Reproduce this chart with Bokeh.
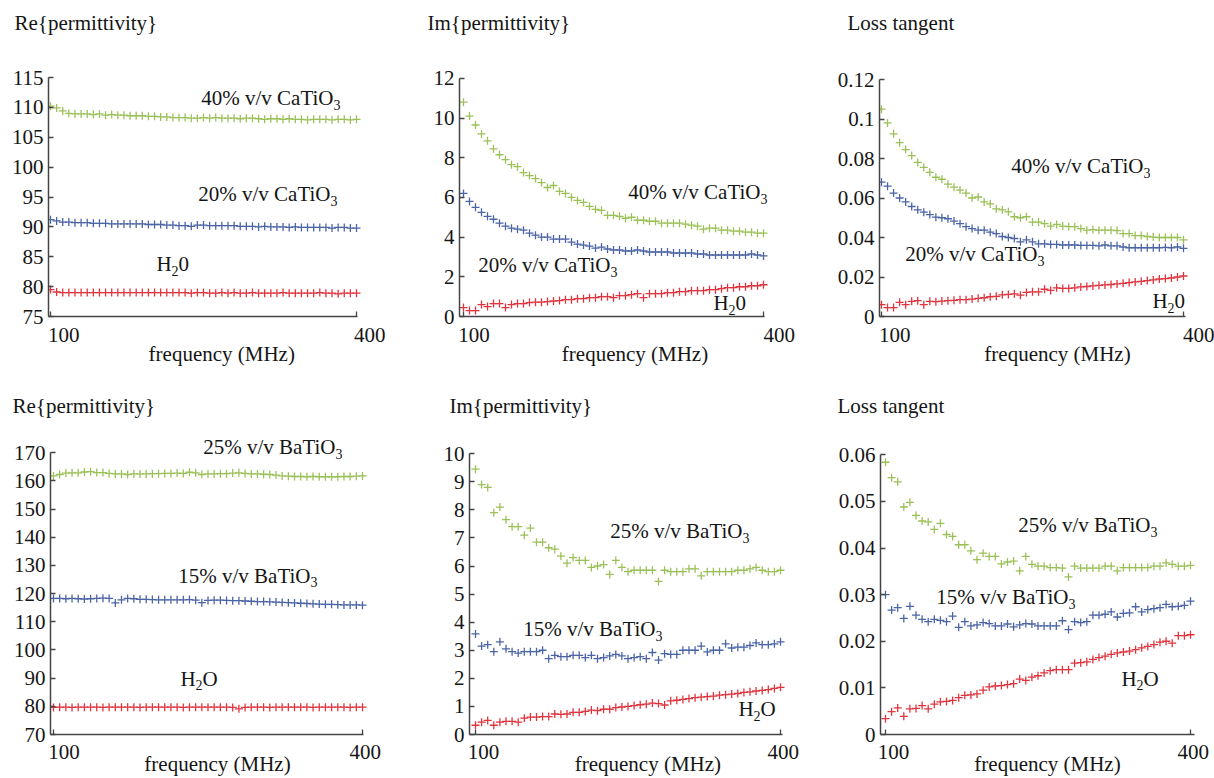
from bokeh.plotting import figure
from bokeh.models import Label, FixedTicker, Range1d, CustomJSTickFormatter
from bokeh.layouts import column, row
from bokeh.embed import file_html
from bokeh.resources import INLINE

# ---------------- data ----------------
freq = [100, 106, 112, 118, 124, 130, 136, 142, 148, 154,
        160, 166, 172, 178, 184, 190, 196, 202, 208, 214,
        220, 226, 232, 238, 244, 250, 256, 262, 268, 274,
        280, 286, 292, 298, 304, 310, 316, 322, 328, 334,
        340, 346, 352, 358, 364, 370, 376, 382, 388, 394,
        400]
x_ticks = [100, 400]

# CaTiO3 -- real part
re_ca40 = [110.2, 109.9, 109.4, 109.0, 108.9, 108.9, 108.9, 108.8, 108.9, 108.7,
           108.8, 108.7, 108.7, 108.6, 108.6, 108.6, 108.5, 108.5, 108.4, 108.4,
           108.3, 108.3, 108.3, 108.2, 108.2, 108.3, 108.2, 108.3, 108.2, 108.2,
           108.2, 108.1, 108.2, 108.2, 108.1, 108.0, 108.1, 108.1, 108.0, 108.1,
           108.0, 108.0, 107.9, 108.0, 108.0, 108.0, 107.9, 108.0, 108.0, 107.9,
           108.0]
re_ca20 = [91.2, 91.0, 90.8, 90.8, 90.7, 90.7, 90.7, 90.6, 90.6, 90.6,
           90.5, 90.5, 90.5, 90.5, 90.5, 90.5, 90.4, 90.4, 90.4, 90.3,
           90.3, 90.2, 90.2, 90.1, 90.3, 90.3, 90.2, 90.2, 90.2, 90.2,
           90.2, 90.1, 90.1, 90.1, 90.0, 90.1, 90.0, 90.0, 90.0, 89.9,
           90.0, 89.9, 89.9, 89.9, 89.9, 89.9, 89.8, 89.9, 89.9, 89.8,
           89.8]
re_ca_h2o = [79.5, 79.1, 79.0, 79.0, 79.0, 79.0, 79.0, 79.0, 79.0, 79.0,
             79.0, 79.0, 79.0, 79.0, 79.0, 79.0, 79.0, 79.0, 79.0, 79.0,
             79.0, 79.0, 79.0, 78.9, 79.0, 79.0, 78.9, 78.9, 79.0, 78.9,
             79.0, 78.9, 78.9, 79.0, 78.9, 78.9, 78.9, 78.9, 79.0, 78.9,
             78.9, 78.9, 78.9, 78.9, 79.0, 78.9, 78.9, 78.8, 78.9, 78.9,
             78.9]
# CaTiO3 -- imaginary part
im_ca40 = [10.8, 10.1, 9.65, 9.2, 8.85, 8.45, 8.15, 7.9, 7.65, 7.55,
           7.25, 7.1, 6.95, 6.75, 6.5, 6.6, 6.3, 6.2, 6.0, 5.85,
           5.75, 5.55, 5.4, 5.35, 5.1, 5.1, 5.05, 4.95, 5.0, 4.85,
           4.85, 4.8, 4.8, 4.7, 4.7, 4.7, 4.7, 4.65, 4.6, 4.55,
           4.4, 4.45, 4.45, 4.35, 4.35, 4.3, 4.3, 4.25, 4.25, 4.2,
           4.2]
im_ca20 = [6.2, 5.8, 5.5, 5.25, 5.05, 4.9, 4.7, 4.55, 4.45, 4.4,
           4.35, 4.2, 4.1, 4.0, 4.0, 3.9, 3.9, 3.9, 3.75, 3.65,
           3.6, 3.55, 3.45, 3.5, 3.4, 3.35, 3.35, 3.3, 3.3, 3.35,
           3.3, 3.25, 3.25, 3.25, 3.25, 3.2, 3.2, 3.2, 3.2, 3.15,
           3.15, 3.1, 3.1, 3.1, 3.1, 3.1, 3.1, 3.1, 3.15, 3.1,
           3.05]
im_ca_h2o = [0.45, 0.3, 0.3, 0.6, 0.5, 0.65, 0.65, 0.45, 0.6, 0.65,
             0.65, 0.7, 0.72, 0.72, 0.75, 0.78, 0.8, 0.85, 0.85, 0.9,
             0.9, 0.95, 0.95, 1.0, 1.0, 0.95, 1.05, 1.05, 1.1, 1.15,
             0.95, 1.15, 1.15, 1.15, 1.2, 1.2, 1.25, 1.25, 1.3, 1.3,
             1.3, 1.35, 1.35, 1.4, 1.45, 1.45, 1.5, 1.5, 1.55, 1.55,
             1.6]
# CaTiO3 -- loss tangent
lt_ca40 = [0.105, 0.098, 0.0925, 0.088, 0.0845, 0.0815, 0.078, 0.0755, 0.073, 0.0705,
           0.0695, 0.067, 0.0655, 0.064, 0.0625, 0.060, 0.0605, 0.058, 0.057, 0.0545,
           0.054, 0.053, 0.0505, 0.050, 0.0505, 0.0478, 0.0478, 0.047, 0.0458, 0.0466,
           0.0458, 0.0455, 0.0455, 0.0445, 0.0437, 0.044, 0.0437, 0.0437, 0.0437, 0.0435,
           0.042, 0.042, 0.041, 0.041, 0.0405, 0.0402, 0.040, 0.040, 0.040, 0.040,
           0.0388]
lt_ca20 = [0.068, 0.066, 0.0625, 0.060, 0.058, 0.0557, 0.054, 0.0528, 0.0516, 0.0503,
           0.050, 0.0495, 0.0483, 0.047, 0.0455, 0.0445, 0.0437, 0.0437, 0.0427, 0.042,
           0.0405, 0.040, 0.0395, 0.0378, 0.0388, 0.0378, 0.0368, 0.0368, 0.0365, 0.0365,
           0.0362, 0.0362, 0.0362, 0.036, 0.036, 0.036, 0.0358, 0.0362, 0.0358, 0.0358,
           0.0352, 0.0348, 0.0348, 0.0348, 0.0348, 0.0348, 0.0348, 0.035, 0.0348, 0.0352,
           0.0345]
lt_ca_h2o = [0.006, 0.0045, 0.0045, 0.0072, 0.006, 0.0077, 0.008, 0.006, 0.0077, 0.0075,
             0.0078, 0.008, 0.0082, 0.0085, 0.0085, 0.0088, 0.0092, 0.0095, 0.0100, 0.0102,
             0.0110, 0.0112, 0.0115, 0.0108, 0.0122, 0.0125, 0.0125, 0.0138, 0.0132, 0.0145,
             0.0142, 0.0142, 0.0145, 0.0150, 0.0152, 0.0155, 0.0158, 0.0160, 0.0162, 0.0165,
             0.0168, 0.0172, 0.0175, 0.0178, 0.0182, 0.0185, 0.0190, 0.0192, 0.0195, 0.0200,
             0.0205]
# BaTiO3 -- real part
re_ba25 = [161.8, 162.3, 162.8, 162.9, 162.9, 163.2, 163.3, 163.0, 163.0, 162.7,
           162.5, 162.5, 162.3, 162.5, 162.5, 162.5, 162.6, 162.6, 162.7, 162.7,
           162.8, 162.7, 163.1, 162.9, 162.3, 162.5, 162.5, 162.6, 162.6, 162.8,
           162.9, 162.7, 162.5, 162.5, 162.4, 162.3, 162.1, 161.8, 161.7, 161.6,
           161.6, 161.5, 161.6, 161.5, 161.5, 161.5, 161.5, 161.6, 161.6, 161.7,
           161.8]
re_ba15 = [118.3, 118.3, 118.2, 118.3, 118.2, 118.1, 118.2, 118.3, 118.4, 118.3,
           116.7, 117.8, 118.3, 118.2, 118.0, 118.0, 117.9, 117.8, 117.8, 117.8,
           117.8, 117.8, 117.9, 117.7, 116.8, 117.6, 117.7, 117.7, 117.6, 117.5,
           117.5, 117.4, 117.3, 117.2, 117.2, 117.1, 117.0, 116.9, 116.8, 116.7,
           116.6, 116.5, 116.4, 116.3, 116.2, 116.2, 116.1, 116.0, 116.0, 116.0,
           115.9]
re_ba_h2o = [79.6, 79.7, 79.7, 79.6, 79.7, 79.7, 79.7, 79.7, 79.6, 79.7,
             79.7, 79.7, 79.7, 79.7, 79.6, 79.7, 79.7, 79.7, 79.7, 79.7,
             79.7, 79.6, 79.7, 79.7, 79.7, 79.7, 79.7, 79.7, 79.7, 79.6,
             79.1, 79.6, 79.7, 79.7, 79.7, 79.6, 79.7, 79.7, 79.7, 79.7,
             79.7, 79.7, 79.6, 79.7, 79.7, 79.7, 79.7, 79.7, 79.6, 79.7,
             79.7]
# BaTiO3 -- imaginary part
im_ba25 = [9.45, 8.9, 8.8, 7.9, 8.1, 7.65, 7.4, 7.4, 7.1, 7.35,
           6.85, 6.85, 6.65, 6.6, 6.35, 6.1, 6.3, 6.2, 6.2, 5.95,
           6.0, 6.05, 5.7, 6.2, 5.95, 5.8, 5.85, 5.85, 5.85, 5.85,
           5.45, 5.85, 5.8, 5.8, 5.8, 5.9, 5.9, 5.65, 5.8, 5.8,
           5.8, 5.8, 5.8, 5.85, 5.85, 5.9, 5.95, 5.85, 5.8, 5.8,
           5.85]
im_ba15 = [3.58, 3.15, 3.2, 2.95, 3.3, 3.05, 2.95, 2.9, 2.95, 2.95,
           2.95, 3.0, 2.7, 2.82, 2.77, 2.77, 2.82, 2.82, 2.74, 2.82,
           2.7, 2.74, 2.8, 2.85, 2.8, 2.7, 2.74, 2.77, 2.7, 2.92,
           2.65, 2.88, 2.85, 2.85, 3.0, 3.0, 3.0, 3.15, 2.94, 3.0,
           3.0, 3.23, 3.08, 3.11, 3.11, 3.17, 3.26, 3.2, 3.2, 3.23,
           3.3]
im_ba_h2o = [0.33, 0.44, 0.5, 0.33, 0.44, 0.47, 0.47, 0.44, 0.58, 0.62,
             0.62, 0.64, 0.64, 0.73, 0.72, 0.73, 0.79, 0.79, 0.82, 0.87,
             0.85, 0.9, 0.9, 0.96, 0.98, 1.0, 1.03, 1.06, 1.08, 1.12,
             1.1, 1.05, 1.2, 1.22, 1.25, 1.28, 1.31, 1.33, 1.35, 1.37,
             1.4, 1.42, 1.44, 1.46, 1.5, 1.52, 1.55, 1.57, 1.6, 1.64,
             1.68]
# BaTiO3 -- loss tangent
lt_ba25 = [0.0584, 0.0551, 0.0542, 0.0488, 0.0498, 0.047, 0.0458, 0.0456, 0.044, 0.0453,
           0.0429, 0.0425, 0.0407, 0.0407, 0.0394, 0.0375, 0.0389, 0.0382, 0.0382, 0.0366,
           0.037, 0.0372, 0.0351, 0.0382, 0.0365, 0.0361, 0.0361, 0.0358, 0.0358, 0.0357,
           0.0338, 0.0361, 0.0357, 0.0357, 0.0357, 0.0357, 0.0361, 0.0361, 0.0351, 0.0358,
           0.0358, 0.0358, 0.0358, 0.0358, 0.0361, 0.0361, 0.0368, 0.0365, 0.0361, 0.0361,
           0.0363]
lt_ba15 = [0.030, 0.0267, 0.0272, 0.0249, 0.0275, 0.0256, 0.0247, 0.0242, 0.0247, 0.0245,
           0.0242, 0.0254, 0.023, 0.0242, 0.0233, 0.0235, 0.024, 0.0238, 0.0233, 0.0233,
           0.0237, 0.0231, 0.0235, 0.0238, 0.0237, 0.0233, 0.0233, 0.0233, 0.0233, 0.0244,
           0.0225, 0.0242, 0.024, 0.0242, 0.0256, 0.0256, 0.0258, 0.0263, 0.0252, 0.026,
           0.0261, 0.0274, 0.0263, 0.0268, 0.027, 0.0272, 0.0279, 0.0274, 0.0275, 0.0277,
           0.0286]
lt_ba_h2o = [0.0034, 0.0049, 0.0057, 0.0039, 0.0055, 0.0056, 0.0062, 0.0055, 0.0065, 0.007,
             0.0071, 0.0073, 0.0079, 0.0084, 0.0085, 0.0087, 0.0095, 0.0102, 0.0104, 0.0105,
             0.0107, 0.0109, 0.0119, 0.0116, 0.0123, 0.0126, 0.0132, 0.0137, 0.0139, 0.0139,
             0.0139, 0.0153, 0.0154, 0.0156, 0.0161, 0.0165, 0.0168, 0.0172, 0.0175, 0.0177,
             0.0179, 0.0182, 0.0186, 0.0189, 0.0193, 0.0198, 0.02, 0.0196, 0.0212, 0.0212,
             0.0214]

y_ticks_re_ca = [75, 80, 85, 90, 95, 100, 105, 110, 115]
y_ticks_im_ca = [0, 2, 4, 6, 8, 10, 12]
y_ticks_lt_ca = [0, 0.02, 0.04, 0.06, 0.08, 0.1, 0.12]
y_ticks_re_ba = [70, 80, 90, 100, 110, 120, 130, 140, 150, 160, 170]
y_ticks_im_ba = [0, 1, 2, 3, 4, 5, 6, 7, 8, 9, 10]
y_ticks_lt_ba = [0, 0.01, 0.02, 0.03, 0.04, 0.05, 0.06]

# ---------------- styling ----------------
GREEN = "#9cc058"
BLUE = "#4b64a5"
RED = "#e0353f"
AXIS = "#444444"
TXT = "#151515"
FONT = "Liberation Serif"
QFONT = "'Liberation Serif', 'Times New Roman', serif"
FS = "21px"
SUB = "14px"
NB = "\u00a0"

# panel geometry in page pixels
# L/B: axes corner, T: top of y axis, R: end of x axis, a/b: pixel of first/last sample,
# tb: bottom of the title text (top of the frame)
panels = [
    dict(ox=0, oy=0, w=405, h=370, L=48, R=357, T=77, B=316, a=50, b=356, tb=34,
         y=(75, 115), yt=y_ticks_re_ca, title="Re{permittivity}", tl=14,
         series=[(re_ca40, GREEN), (re_ca20, BLUE), (re_ca_h2o, RED)],
         pad=(5, 5, -2), tso=6, lso=-8,
         ox_labels=[("40% v/v CaTiO", "3", 333, 97), ("20% v/v CaTiO", "3", 330, 193)],
         water=("0", 156, 263)),
    dict(ox=405, oy=0, w=405, h=370, L=459, R=764, T=78, B=317, a=463, b=763, tb=34,
         y=(0, 12), yt=y_ticks_im_ca, title="Im{permittivity}", tl=427,
         series=[(im_ca40, GREEN), (im_ca20, BLUE), (im_ca_h2o, RED)],
         pad=(4, 6, 0), tso=6, lso=-8,
         ox_labels=[("40% v/v CaTiO", "3", 760, 192), ("20% v/v CaTiO", "3", 610, 265)],
         water=("0", 713, 303)),
    dict(ox=810, oy=0, w=404, h=370, L=879, R=1185, T=79, B=316, a=881, b=1183, tb=34,
         y=(0, 0.12), yt=y_ticks_lt_ca, title="Loss tangent", tl=847,
         series=[(lt_ca40, GREEN), (lt_ca20, BLUE), (lt_ca_h2o, RED)],
         pad=(5, 6, 4), tso=6, lso=-8,
         ox_labels=[("40% v/v CaTiO", "3", 1143, 165), ("20% v/v CaTiO", "3", 1037, 253)],
         water=("0", 1152, 300)),
    dict(ox=0, oy=370, w=405, h=408, L=50, R=363, T=453, B=740, a=53, b=362, tb=417,
         y=(70, 170), yt=y_ticks_re_ba, title="Re{permittivity}", tl=12,
         series=[(re_ba25, GREEN), (re_ba15, BLUE), (re_ba_h2o, RED)],
         pad=(4, 1, -4), tso=5, lso=-15,
         ox_labels=[("25% v/v BaTiO", "3", 335, 447), ("15% v/v BaTiO", "3", 310, 578)],
         water=("O", 180, 683)),
    dict(ox=405, oy=370, w=405, h=408, L=469, R=782, T=454, B=741, a=475, b=780, tb=417,
         y=(0, 10), yt=y_ticks_im_ba, title="Im{permittivity}", tl=449,
         series=[(im_ba25, GREEN), (im_ba15, BLUE), (im_ba_h2o, RED)],
         pad=(3, 1, 3), tso=5, lso=-15,
         ox_labels=[("25% v/v BaTiO", "3", 742, 533), ("15% v/v BaTiO", "3", 655, 633)],
         water=("O", 738, 715)),
    dict(ox=810, oy=370, w=404, h=408, L=880, R=1194, T=455, B=740, a=885, b=1190, tb=417,
         y=(0, 0.06), yt=y_ticks_lt_ba, title="Loss tangent", tl=837,
         series=[(lt_ba25, GREEN), (lt_ba15, BLUE), (lt_ba_h2o, RED)],
         pad=(3, 1, 0), tso=5, lso=-15,
         ox_labels=[("25% v/v BaTiO", "3", 1150, 527), ("15% v/v BaTiO", "3", 1068, 600)],
         water=("O", 1121, 683)),
]


def build(g):
    s = (g["b"] - g["a"]) / (x_ticks[1] - x_ticks[0])          # px per MHz
    x0 = x_ticks[0] - (g["a"] - g["L"]) / s
    x1 = x_ticks[1] + (g["R"] - g["b"]) / s                       # end of the x axis
    x_ext = x_ticks[1] + (g["ox"] + g["w"] - g["b"]) / s          # right edge of frame
    y0, y1 = g["y"]
    ppu = (g["B"] - g["T"]) / (y1 - y0)                           # px per unit
    y_ext = y0 + (g["B"] - g["tb"]) / ppu                         # top edge of frame

    def to_data(px, py):
        return x_ticks[0] + (px - g["a"]) / s, y0 + (g["B"] - py) / ppu

    p = figure(width=g["w"], height=g["h"], x_range=Range1d(x0, x_ext), y_range=Range1d(y0, y_ext),
               output_backend="svg", toolbar_location=None, title=g["title"],
               min_border_left=g["L"] - g["ox"], min_border_right=0,
               min_border_top=g["tb"] - g["oy"], min_border_bottom=g["oy"] + g["h"] - g["B"])
    p.outline_line_color = None
    p.grid.visible = False
    p.background_fill_color = "white"
    p.border_fill_color = "white"

    p.title.align = "left"
    p.title.offset = g["tl"] - g["L"]
    p.title.standoff = 0
    p.title.text_font = QFONT
    p.title.text_font_size = FS
    p.title.text_font_style = "normal"
    p.title.text_color = TXT

    for ax in (p.xaxis[0], p.yaxis[0]):
        ax.axis_line_color = AXIS
        ax.axis_line_width = 1.5
        ax.major_tick_line_color = AXIS
        ax.major_tick_line_width = 1.3
        ax.major_tick_in = 5
        ax.major_tick_out = 0
        ax.minor_tick_line_color = None
        ax.major_label_text_font = QFONT
        ax.major_label_text_font_size = FS
        ax.major_label_text_color = TXT
    p.xaxis.bounds = (x0, x1)
    p.yaxis.bounds = (y0, y1)
    p.xaxis.ticker = FixedTicker(ticks=x_ticks)
    n_lo, n_hi, n_lab = g["pad"]
    p.xaxis.formatter = CustomJSTickFormatter(
        args=dict(lo=NB * n_lo + str(x_ticks[0]), hi=NB * n_hi + str(x_ticks[1]), mid=sum(x_ticks) / 2),
        code="return tick < mid ? lo : hi")
    p.xaxis.major_label_standoff = g["tso"]
    p.xaxis.axis_label = NB * max(n_lab, 0) + "frequency (MHz)" + NB * max(-n_lab, 0)
    p.xaxis.axis_label_standoff = g["lso"]
    p.xaxis.axis_label_text_font = QFONT
    p.xaxis.axis_label_text_font_size = FS
    p.xaxis.axis_label_text_font_style = "normal"
    p.xaxis.axis_label_text_color = TXT
    p.yaxis.ticker = FixedTicker(ticks=g["yt"])
    p.yaxis.formatter = CustomJSTickFormatter(code="return String(Math.round(tick * 1000) / 1000)")
    p.yaxis.major_label_standoff = 5

    for vals, col in g["series"]:
        n = min(len(freq), len(vals))
        p.scatter(freq[:n], vals[:n], marker="cross", size=8, line_color=col, line_width=1.3)

    def txt(text, px, py, align="left", size=FS):
        xd, yd = to_data(px, py)
        p.add_layout(Label(x=xd, y=yd, text=text, text_align=align, text_baseline="middle",
                           text_font=FONT, text_font_size=size, text_color=TXT))

    for main, sub, anchor, cy in g["ox_labels"]:
        txt(main, anchor, cy, align="right")
        txt(sub, anchor, cy + 7, size=SUB)
    tail, left, cy = g["water"]
    txt("H", left, cy)
    txt("2", left + 15, cy + 7, size=SUB)
    txt(tail, left + 22, cy)
    return p


figs = [build(g) for g in panels]
layout = column(row(*figs[:3]), row(*figs[3:]))
open("out.html", "w").write(file_html(layout, INLINE))
